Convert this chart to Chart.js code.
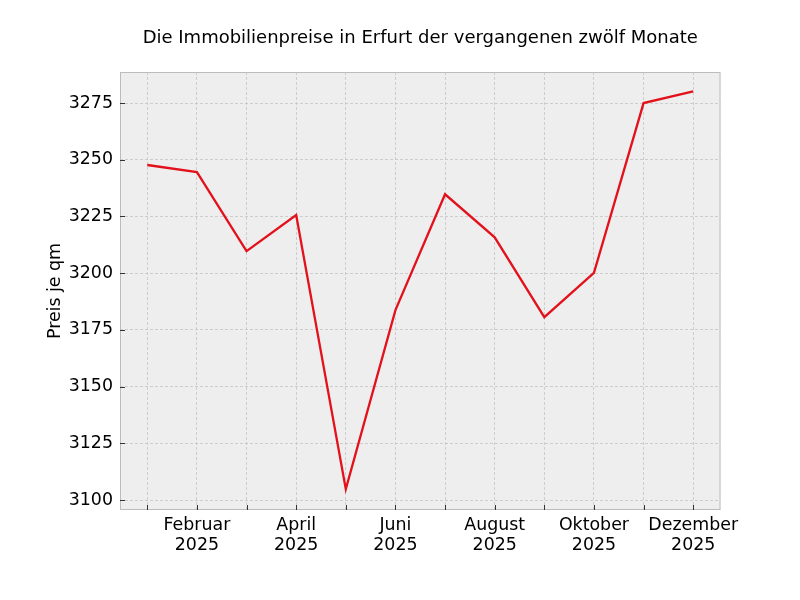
<!DOCTYPE html>
<html>
<head>
<meta charset="utf-8">
<script src="https://cdn.jsdelivr.net/npm/chart.js@4"></script>
<style>
  html, body { margin: 0; padding: 0; background: #ffffff; }
  #wrap { width: 800px; height: 600px; }
</style>
</head>
<body>
<div id="wrap"><canvas id="chart" width="800" height="600"></canvas></div>
<script>
// Monatsdaten
var months = ['Januar', 'Februar', 'März', 'April', 'Mai', 'Juni', 'Juli', 'August', 'September', 'Oktober', 'November', 'Dezember'];
var years = ['2025', '2025', '2025', '2025', '2025', '2025', '2025', '2025', '2025', '2025', '2025', '2025'];
var prices = [3247.7, 3244.6, 3209.7, 3225.6, 3104.8, 3183.7, 3234.8, 3215.8, 3180.6, 3200.2, 3275.0, 3280.2];
var yTicks = [3100, 3125, 3150, 3175, 3200, 3225, 3250, 3275];

var titleText = 'Die Immobilienpreise in Erfurt der vergangenen zwölf Monate';
var yTitle = 'Preis je qm';

var points = prices.map(function (p, i) { return { x: i, y: p }; });

// Hintergrund, Rahmen und innenliegende Ticks wie im Original
var framePlugin = {
    id: 'frame',
    beforeDraw: function (chart) {
        var a = chart.chartArea, ctx = chart.ctx;
        ctx.save();
        ctx.fillStyle = '#eeeeee';
        ctx.fillRect(a.left, a.top, a.right - a.left, a.bottom - a.top);
        ctx.restore();
    },
    afterDraw: function (chart) {
        var a = chart.chartArea, ctx = chart.ctx;
        var xs = chart.scales.x, ys = chart.scales.y;
        ctx.save();
        ctx.strokeStyle = '#bcbcbc';
        ctx.lineWidth = 1;
        ctx.strokeRect(a.left + 0.5, a.top + 0.5, a.right - a.left - 1, a.bottom - a.top - 1);
        ctx.strokeStyle = '#333333';
        ctx.beginPath();
        months.forEach(function (m, i) {
            var px = Math.round(xs.getPixelForValue(i)) + 0.5;
            ctx.moveTo(px, a.bottom);
            ctx.lineTo(px, a.bottom - 5);
        });
        yTicks.forEach(function (t) {
            var py = Math.round(ys.getPixelForValue(t)) + 0.5;
            ctx.moveTo(a.left, py);
            ctx.lineTo(a.left + 5, py);
        });
        ctx.stroke();
        ctx.restore();
    }
};

var font = { family: 'DejaVu Sans', size: 17.4, lineHeight: 1.18 };

new Chart(document.getElementById('chart').getContext('2d'), {
    type: 'line',
    data: {
        datasets: [{
            label: 'Preis',
            data: points,
            borderColor: '#e3111b',
            borderWidth: 2.3,
            pointRadius: 0,
            tension: 0,
            fill: false
        }]
    },
    options: {
        responsive: false,
        animation: false,
        layout: { padding: { left: 0, right: 79.5, top: 0, bottom: 0 } },
        plugins: {
            legend: { display: false },
            tooltip: { enabled: false },
            title: {
                display: true,
                text: titleText,
                fullSize: false,
                color: '#000000',
                font: { family: 'DejaVu Sans', size: 18, weight: 'normal', lineHeight: 1.2 },
                padding: { top: 28, bottom: 22.4 }
            }
        },
        scales: {
            x: {
                type: 'linear',
                min: -0.55,
                max: 11.55,
                afterFit: function (s) { s.height = 90; },
                grid: { color: '#c4c4c4', lineWidth: 0.8, drawTicks: false },
                border: { display: false, dash: [3, 2] },
                ticks: {
                    stepSize: 1,
                    includeBounds: false,
                    autoSkip: false,
                    maxRotation: 0,
                    padding: 5,
                    color: '#000000',
                    font: font,
                    callback: function (v) {
                        return (v % 2 === 1) ? [months[v], years[v]] : '';
                    }
                }
            },
            y: {
                min: 3095.6,
                max: 3288.7,
                afterFit: function (s) { s.width = 120; },
                grid: { color: '#c4c4c4', lineWidth: 0.8, drawTicks: false },
                border: { display: false, dash: [3, 2] },
                ticks: {
                    stepSize: 25,
                    includeBounds: false,
                    padding: 7,
                    color: '#000000',
                    font: font,
                    callback: function (v) { return String(v); }
                },
                title: {
                    display: true,
                    text: yTitle,
                    color: '#000000',
                    font: font,
                    padding: { top: 45, bottom: 0 }
                }
            }
        }
    },
    plugins: [framePlugin]
});
</script>
</body>
</html>
